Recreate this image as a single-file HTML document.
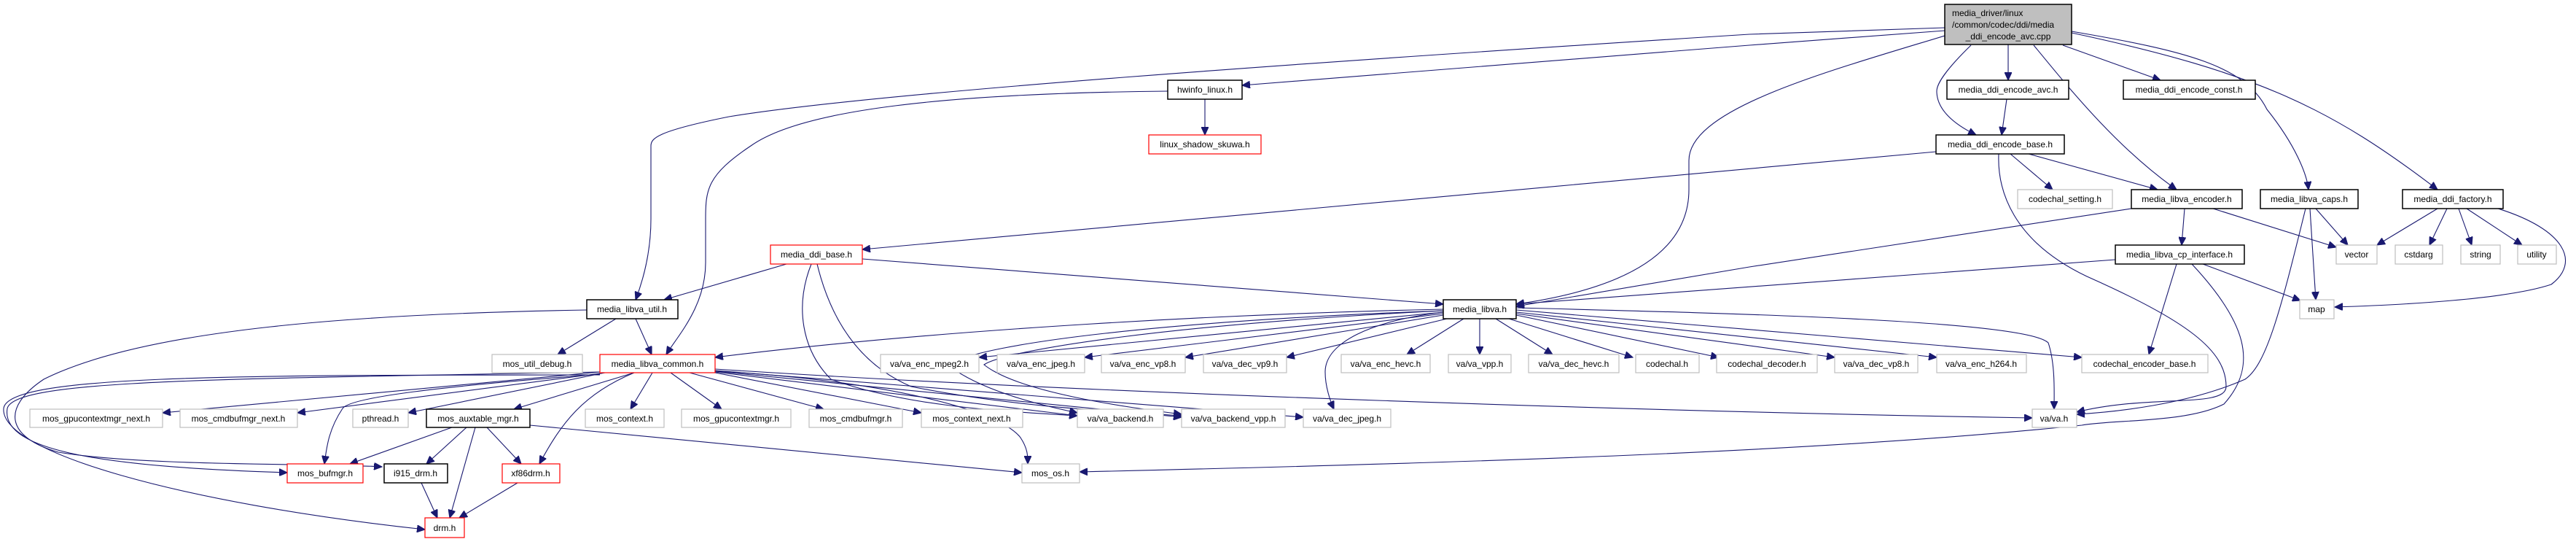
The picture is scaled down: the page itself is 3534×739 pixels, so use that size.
<!DOCTYPE html>
<html><head><meta charset="utf-8"><style>
html,body{margin:0;padding:0;background:#fff;}
svg{display:block;}
text{font-family:"Liberation Sans",sans-serif;font-size:12px;fill:#000;}
.b{fill:#fff;stroke:#000;stroke-width:1.5}
.r{fill:#fff;stroke:#f00;stroke-width:1.2}
.g{fill:#fff;stroke:#bfbfbf;stroke-width:1.2}
path{fill:none;stroke:#191970;stroke-width:1.1}
</style></head><body>
<svg width="3534" height="739" viewBox="0 0 3534 739" xmlns="http://www.w3.org/2000/svg">
<defs><marker id="a" markerUnits="userSpaceOnUse" markerWidth="12" markerHeight="10" refX="11" refY="5" orient="auto"><path d="M0,0 L11,5 L0,10 Z" style="fill:#191970;stroke:#191970"/></marker></defs>
<g marker-end="url(#a)">
<!-- from main -->
<path d="M2668,38 L2400,47 C1800,85 1200,127 1000,160 C900,180 893,190 893,200 L893,300 C893,350 880,390 872,411"/>
<path d="M2668,42 L2400,62 L1704,117"/>
<path d="M2668,49 C2500,100 2317,150 2317,220 L2317,260 C2317,360 2200,400 2080,417"/>
<path d="M2755,61 L2755,110"/>
<path d="M2704,62 C2670,95 2657,115 2657,125 C2657,150 2680,170 2711,185"/>
<path d="M2830,62 L2964,110"/>
<path d="M2790,62 C2830,110 2900,200 2986,260"/>
<path d="M2842,43 C3000,70 3080,90 3110,150 C3150,200 3165,240 3167,260"/>
<path d="M2842,45 C3100,100 3200,150 3344,260"/>
<path d="M2753,136 L2746,185"/>
<path d="M1653,136 L1653,185"/>
<!-- encode_base -->
<path d="M2656,208 L1183,342"/>
<path d="M2758,211 L2816,260"/>
<path d="M2783,211 L2960,260"/>
<path d="M2742,211 C2740,260 2760,330 2863,379 C3000,440 3054,480 3054,530 C3054,560 2950,540 2849,565"/>
<!-- encoder / caps / factory -->
<path d="M2924,286 L2400,366 L2080,420"/>
<path d="M2997,286 L2993,336"/>
<path d="M3036,286 L3205,339"/>
<path d="M3177,286 L3221,336"/>
<path d="M3169,286 L3177,411"/>
<path d="M3163,286 C3130,420 3110,500 3080,520 C3000,555 2900,565 2849,568"/>
<path d="M3344,286 L3261,336"/>
<path d="M3357,286 L3333,336"/>
<path d="M3373,286 L3391,336"/>
<path d="M3384,286 L3460,336"/>
<path d="M3427,286 C3520,315 3540,360 3500,390 C3440,410 3300,418 3203,421"/>
<!-- cp_interface -->
<path d="M2902,356 L2080,417"/>
<path d="M3022,362 L3156,412"/>
<path d="M2986,362 L2948,486"/>
<path d="M3007,362 C3080,440 3100,500 3051,554 C3000,580 2900,575 2856,583 C2500,620 2000,635 1481,647"/>
<!-- media_ddi_base -->
<path d="M1079,362 L911,411"/>
<path d="M1183,355 L1980,417"/>
<path d="M1113,362 C1090,420 1100,480 1140,520 C1250,560 1400,565 1478,570"/>
<path d="M1121,362 C1140,440 1180,500 1250,530 C1400,560 1550,565 1621,570"/>
<!-- util -->
<path d="M845,437 L765,486"/>
<path d="M872,437 L894,486"/>
<path d="M805,425 C500,430 200,450 60,520 C0,560 10,600 80,620 C200,640 450,635 524,640"/>
<!-- hwinfo -->
<path d="M1602,125 C1300,128 1100,150 1030,200 C970,240 968,260 968,300 L968,360 C968,420 930,460 914,486"/>
<!-- media_libva.h children -->
<path d="M1980,424 C1700,430 1300,450 981,490"/>
<path d="M1980,428 L1343,490"/>
<path d="M1980,430 L1488,490"/>
<path d="M1980,432 L1626,490"/>
<path d="M1985,437 L1765,490"/>
<path d="M2008,437 L1930,486"/>
<path d="M2030,437 L2030,486"/>
<path d="M2052,437 L2130,486"/>
<path d="M2070,437 L2240,490"/>
<path d="M2080,432 L2358,490"/>
<path d="M2080,430 L2517,490"/>
<path d="M2080,428 L2657,490"/>
<path d="M2080,425 L2856,490"/>
<path d="M2080,422 C2400,430 2780,440 2810,470 C2820,500 2818,540 2818,561"/>
<path d="M1980,428 C1880,440 1818,470 1818,510 C1818,530 1825,550 1830,561"/>
<path d="M1980,426 C1600,440 1350,470 1300,500 C1350,540 1450,560 1478,566"/>
<path d="M1980,426 C1600,445 1380,480 1350,500 C1400,540 1560,560 1621,568"/>
<!-- common children -->
<path d="M823,510 L223,566"/>
<path d="M823,512 L408,566"/>
<path d="M830,511 L560,566"/>
<path d="M870,511 L705,561"/>
<path d="M895,511 L865,561"/>
<path d="M920,511 L990,561"/>
<path d="M946,511 L1130,561"/>
<path d="M981,511 L1264,566"/>
<path d="M981,510 L1478,570"/>
<path d="M981,509 L1621,572"/>
<path d="M981,508 L1788,572"/>
<path d="M981,506 C1500,540 2300,565 2788,573"/>
<path d="M981,509 C1200,520 1370,560 1400,600 C1410,615 1410,625 1410,636"/>
<path d="M823,513 C600,530 480,545 470,560 C450,590 448,615 445,636"/>
<path d="M823,510 C300,520 20,520 10,560 C0,620 150,640 394,648"/>
<path d="M823,514 C300,514 10,515 5,560 C0,620 250,690 583,726"/>
<path d="M870,511 C800,540 770,580 740,636"/>
<!-- aux -->
<path d="M620,586 L480,636"/>
<path d="M640,586 L585,636"/>
<path d="M652,586 L617,710"/>
<path d="M668,586 L715,636"/>
<path d="M727,583 L1402,648"/>
<path d="M578,662 L600,710"/>
<path d="M710,662 L630,710"/>
</g>
<!-- nodes -->
<rect x="2668" y="6" width="174" height="55" style="fill:#bfbfbf;stroke:#000;stroke-width:1.5"/>
<text x="2678" y="22">media_driver/linux</text>
<text x="2678" y="38">/common/codec/ddi/media</text>
<text x="2755" y="54" text-anchor="middle">_ddi_encode_avc.cpp</text>

<rect class="b" x="1602" y="110" width="102" height="26"/><text x="1653" y="127" text-anchor="middle">hwinfo_linux.h</text>
<rect class="b" x="2671" y="110" width="167" height="26"/><text x="2755" y="127" text-anchor="middle">media_ddi_encode_avc.h</text>
<rect class="b" x="2913" y="110" width="181" height="26"/><text x="3003" y="127" text-anchor="middle">media_ddi_encode_const.h</text>
<rect class="r" x="1576" y="185" width="154" height="26"/><text x="1653" y="202" text-anchor="middle">linux_shadow_skuwa.h</text>
<rect class="b" x="2656" y="185" width="176" height="26"/><text x="2744" y="202" text-anchor="middle">media_ddi_encode_base.h</text>
<rect class="g" x="2768" y="260" width="130" height="26"/><text x="2833" y="277" text-anchor="middle">codechal_setting.h</text>
<rect class="b" x="2924" y="260" width="152" height="26"/><text x="3000" y="277" text-anchor="middle">media_libva_encoder.h</text>
<rect class="b" x="3101" y="260" width="134" height="26"/><text x="3168" y="277" text-anchor="middle">media_libva_caps.h</text>
<rect class="b" x="3296" y="260" width="138" height="26"/><text x="3365" y="277" text-anchor="middle">media_ddi_factory.h</text>
<rect class="r" x="1057" y="336" width="126" height="26"/><text x="1120" y="353" text-anchor="middle">media_ddi_base.h</text>
<rect class="b" x="2902" y="336" width="177" height="26"/><text x="2990" y="353" text-anchor="middle">media_libva_cp_interface.h</text>
<rect class="g" x="3205" y="336" width="56" height="26"/><text x="3233" y="353" text-anchor="middle">vector</text>
<rect class="g" x="3286" y="336" width="65" height="26"/><text x="3318" y="353" text-anchor="middle">cstdarg</text>
<rect class="g" x="3376" y="336" width="54" height="26"/><text x="3403" y="353" text-anchor="middle">string</text>
<rect class="g" x="3454" y="336" width="53" height="26"/><text x="3480" y="353" text-anchor="middle">utility</text>
<rect class="b" x="805" y="411" width="125" height="26"/><text x="867" y="428" text-anchor="middle">media_libva_util.h</text>
<rect class="b" x="1980" y="411" width="100" height="26"/><text x="2030" y="428" text-anchor="middle">media_libva.h</text>
<rect class="g" x="3155" y="411" width="47" height="26"/><text x="3178" y="428" text-anchor="middle">map</text>

<rect class="g" x="675" y="486" width="124" height="25"/><text x="737" y="503" text-anchor="middle">mos_util_debug.h</text>
<rect class="r" x="823" y="486" width="158" height="25"/><text x="902" y="503" text-anchor="middle">media_libva_common.h</text>
<rect class="g" x="1208" y="486" width="135" height="25"/><text x="1275" y="503" text-anchor="middle">va/va_enc_mpeg2.h</text>
<rect class="g" x="1368" y="486" width="120" height="25"/><text x="1428" y="503" text-anchor="middle">va/va_enc_jpeg.h</text>
<rect class="g" x="1511" y="486" width="115" height="25"/><text x="1568" y="503" text-anchor="middle">va/va_enc_vp8.h</text>
<rect class="g" x="1651" y="486" width="114" height="25"/><text x="1708" y="503" text-anchor="middle">va/va_dec_vp9.h</text>
<rect class="g" x="1840" y="486" width="122" height="25"/><text x="1901" y="503" text-anchor="middle">va/va_enc_hevc.h</text>
<rect class="g" x="1987" y="486" width="86" height="25"/><text x="2030" y="503" text-anchor="middle">va/va_vpp.h</text>
<rect class="g" x="2097" y="486" width="124" height="25"/><text x="2159" y="503" text-anchor="middle">va/va_dec_hevc.h</text>
<rect class="g" x="2244" y="486" width="87" height="25"/><text x="2287" y="503" text-anchor="middle">codechal.h</text>
<rect class="g" x="2355" y="486" width="138" height="25"/><text x="2424" y="503" text-anchor="middle">codechal_decoder.h</text>
<rect class="g" x="2517" y="486" width="114" height="25"/><text x="2574" y="503" text-anchor="middle">va/va_dec_vp8.h</text>
<rect class="g" x="2657" y="486" width="123" height="25"/><text x="2718" y="503" text-anchor="middle">va/va_enc_h264.h</text>
<rect class="g" x="2856" y="486" width="173" height="25"/><text x="2942" y="503" text-anchor="middle">codechal_encoder_base.h</text>

<rect class="g" x="41" y="561" width="182" height="25"/><text x="132" y="578" text-anchor="middle">mos_gpucontextmgr_next.h</text>
<rect class="g" x="247" y="561" width="161" height="25"/><text x="327" y="578" text-anchor="middle">mos_cmdbufmgr_next.h</text>
<rect class="g" x="484" y="561" width="76" height="25"/><text x="522" y="578" text-anchor="middle">pthread.h</text>
<rect class="b" x="585" y="561" width="142" height="25"/><text x="656" y="578" text-anchor="middle">mos_auxtable_mgr.h</text>
<rect class="g" x="803" y="561" width="108" height="25"/><text x="857" y="578" text-anchor="middle">mos_context.h</text>
<rect class="g" x="935" y="561" width="150" height="25"/><text x="1010" y="578" text-anchor="middle">mos_gpucontextmgr.h</text>
<rect class="g" x="1110" y="561" width="128" height="25"/><text x="1174" y="578" text-anchor="middle">mos_cmdbufmgr.h</text>
<rect class="g" x="1264" y="561" width="139" height="25"/><text x="1333" y="578" text-anchor="middle">mos_context_next.h</text>
<rect class="g" x="1478" y="561" width="118" height="25"/><text x="1537" y="578" text-anchor="middle">va/va_backend.h</text>
<rect class="g" x="1621" y="561" width="142" height="25"/><text x="1692" y="578" text-anchor="middle">va/va_backend_vpp.h</text>
<rect class="g" x="1788" y="561" width="120" height="25"/><text x="1848" y="578" text-anchor="middle">va/va_dec_jpeg.h</text>
<rect class="g" x="2788" y="561" width="61" height="25"/><text x="2818" y="578" text-anchor="middle">va/va.h</text>

<rect class="r" x="394" y="636" width="104" height="26"/><text x="446" y="653" text-anchor="middle">mos_bufmgr.h</text>
<rect class="b" x="527" y="636" width="87" height="26"/><text x="570" y="653" text-anchor="middle">i915_drm.h</text>
<rect class="r" x="689" y="636" width="79" height="26"/><text x="728" y="653" text-anchor="middle">xf86drm.h</text>
<rect class="g" x="1402" y="636" width="79" height="26"/><text x="1441" y="653" text-anchor="middle">mos_os.h</text>
<rect class="r" x="583" y="710" width="54" height="27"/><text x="610" y="728" text-anchor="middle">drm.h</text>
</svg>
</body></html>
